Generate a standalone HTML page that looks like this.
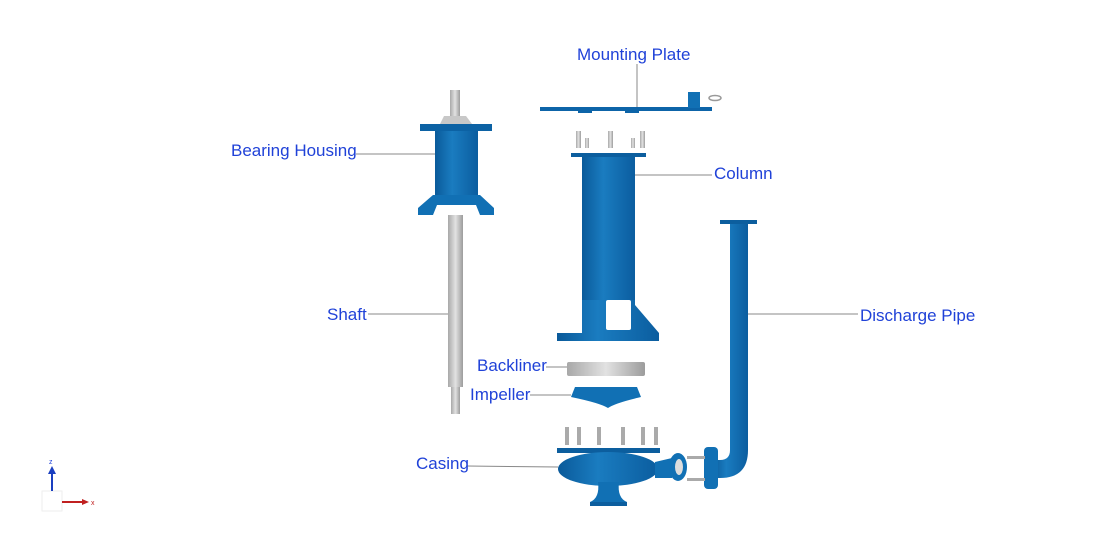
<!DOCTYPE html>
<html><head><meta charset="utf-8"><style>
body{margin:0;background:#fff;width:1100px;height:552px;overflow:hidden}
svg{display:block}
text{font-family:"Liberation Sans",sans-serif;font-size:17px;fill:#2042d8}
</style></head><body>
<svg width="1100" height="552" viewBox="0 0 1100 552">
<defs>
<linearGradient id="b" x1="0" x2="1"><stop offset="0" stop-color="#0a5a9a"/><stop offset=".4" stop-color="#1a7cc0"/><stop offset="1" stop-color="#0b5d9f"/></linearGradient>
<linearGradient id="g" x1="0" x2="1"><stop offset="0" stop-color="#a8a8a8"/><stop offset=".5" stop-color="#e2e2e2"/><stop offset="1" stop-color="#9c9c9c"/></linearGradient>
</defs>
<g stroke="#888" stroke-width="1" fill="none">
<line x1="637" y1="64" x2="637" y2="107"/>
<line x1="356" y1="154" x2="435" y2="154"/>
<line x1="635" y1="175" x2="712" y2="175"/>
<line x1="368" y1="314" x2="448" y2="314"/>
<line x1="748" y1="314" x2="858" y2="314"/>
<line x1="546" y1="367" x2="567" y2="367"/>
<line x1="530" y1="395" x2="571" y2="395"/>
<line x1="467" y1="466" x2="558" y2="467"/>
</g>
<rect x="540" y="107" width="172" height="4" fill="#0d64a8"/>
<rect x="578" y="110" width="14" height="3" fill="#0d64a8"/><rect x="625" y="110" width="14" height="3" fill="#0d64a8"/>
<rect x="688" y="92" width="12" height="16" fill="#1170b4"/>
<ellipse cx="715" cy="98" rx="6" ry="2.5" fill="none" stroke="#999" stroke-width="1.5"/>
<g fill="url(#g)">
<rect x="576" y="131" width="5" height="17"/><rect x="585" y="138" width="4" height="10"/>
<rect x="608" y="131" width="5" height="17"/><rect x="631" y="138" width="4" height="10"/><rect x="640" y="131" width="5" height="17"/>
</g>
<rect x="571" y="153" width="75" height="4" fill="#0c5e9e"/>
<rect x="582" y="157" width="53" height="150" fill="url(#b)"/>
<path d="M582 300 L582 333 L557 333 L557 341 L659 341 L659 333 L635 305 L635 300 Z" fill="url(#b)"/>
<rect x="606" y="300" width="25" height="30" rx="2" fill="#fff"/>
<rect x="450" y="90" width="10" height="30" fill="url(#g)"/>
<path d="M440 124 L444 116 L466 116 L472 124 Z" fill="#c8c8c8"/>
<rect x="420" y="124" width="72" height="7" fill="#0c62a4"/>
<rect x="435" y="131" width="43" height="66" fill="url(#b)"/>
<path d="M433 195 L480 195 L494 208 L494 215 L480 215 L476 205 L437 205 L433 215 L418 215 L418 208 Z" fill="#1170b4"/>
<rect x="448" y="215" width="15" height="172" fill="url(#g)"/>
<rect x="451" y="387" width="9" height="27" fill="url(#g)"/>
<rect x="720" y="220" width="37" height="4" fill="#0c5e9e"/>
<path d="M730 224 L748 224 L748 450 Q748 478 720 478 L712 478 L712 460 L720 460 Q730 460 730 450 Z" fill="url(#b)"/>
<rect x="704" y="447" width="14" height="42" rx="4" fill="#1170b4"/>
<g fill="#aaa"><rect x="687" y="456" width="18" height="3"/><rect x="687" y="478" width="18" height="3"/></g>
<rect x="567" y="362" width="78" height="14" rx="2" fill="url(#g)"/>
<path d="M575 387 L637 387 L641 397 Q615 403 608 408 Q600 403 571 397 Z" fill="#1170b4"/>
<g fill="#aaa">
<rect x="565" y="427" width="4" height="18"/><rect x="577" y="427" width="4" height="18"/><rect x="597" y="427" width="4" height="18"/>
<rect x="621" y="427" width="4" height="18"/><rect x="641" y="427" width="4" height="18"/><rect x="654" y="427" width="4" height="18"/>
</g>
<rect x="557" y="448" width="103" height="5" fill="#0c5e9e"/>
<ellipse cx="608" cy="469" rx="50" ry="17" fill="url(#b)"/>
<path d="M655 462 L672 458 L672 478 L655 478 Z" fill="#1170b4"/>
<ellipse cx="678" cy="467" rx="9" ry="14" fill="#1170b4"/>
<ellipse cx="679" cy="467" rx="4" ry="8" fill="#ddd"/>
<path d="M598 482 Q600 498 590 502 L627 502 Q617 498 619 482 Z" fill="#1170b4"/>
<rect x="590" y="502" width="37" height="4" fill="#0c5e9e"/>
<text x="577" y="60">Mounting Plate</text>
<text x="231" y="156">Bearing Housing</text>
<text x="714" y="179">Column</text>
<text x="327" y="320">Shaft</text>
<text x="860" y="321">Discharge Pipe</text>
<text x="477" y="371">Backliner</text>
<text x="470" y="400">Impeller</text>
<text x="416" y="469">Casing</text>
<rect x="42" y="491" width="20" height="20" fill="none" stroke="#eee"/>
<line x1="52" y1="491" x2="52" y2="472" stroke="#1a3fc0" stroke-width="2"/>
<path d="M48 474 L52 466 L56 474 Z" fill="#1a3fc0"/>
<text x="49" y="464" style="font-size:7px">z</text>
<line x1="62" y1="502" x2="83" y2="502" stroke="#c02020" stroke-width="2"/>
<path d="M82 499 L89 502 L82 505 Z" fill="#c02020"/>
<text x="91" y="505" style="font-size:7px;fill:#c02020">x</text>
</svg>
</body></html>
